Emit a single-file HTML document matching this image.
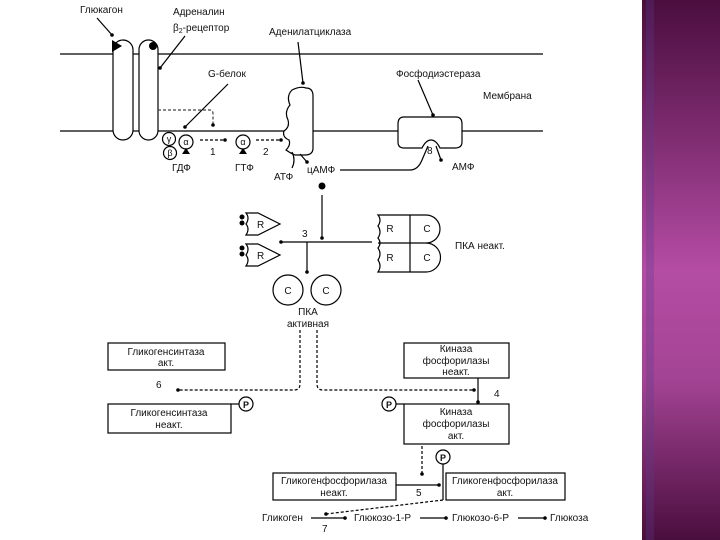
<!DOCTYPE html>
<html><head><meta charset="utf-8"><style>
html,body{margin:0;padding:0;background:#fff;width:720px;height:540px;overflow:hidden}
.bar{position:absolute;left:642px;top:0;width:78px;height:540px;background:linear-gradient(#4a0e3e,#7e2c70 25%,#b44ca4 50%,#a44494 70%,#4a0e3e)}
.bar2{position:absolute;left:646px;top:0;width:8px;height:540px;background:rgba(90,60,140,0.3)}
svg{position:absolute;left:0;top:0}
text{font-family:"Liberation Sans",sans-serif;font-size:10px;fill:#111}
</style></head><body>
<div class="bar"></div><div class="bar2"></div>
<svg width="642" height="540" viewBox="0 0 642 540">
<defs><marker id="a" markerWidth="4" markerHeight="4" refX="2" refY="2"><circle cx="2" cy="2" r="1.5" fill="#000"/></marker></defs>
<g stroke="#000" fill="none" stroke-width="1.2">
<line x1="60" y1="54" x2="113" y2="54"/><line x1="133" y1="54" x2="139" y2="54"/><line x1="158" y1="54" x2="543" y2="54"/>
<line x1="60" y1="131" x2="113" y2="131"/><line x1="133" y1="131" x2="139" y2="131"/><line x1="158" y1="131" x2="398" y2="131"/><line x1="462" y1="131" x2="543" y2="131"/>
<rect x="113" y="40" width="20" height="100" rx="10" fill="#fff"/>
<rect x="139" y="40" width="19" height="100" rx="9.5" fill="#fff"/>
<line x1="97" y1="18" x2="112" y2="35" marker-end="url(#a)"/>
<line x1="185" y1="36" x2="160" y2="68" marker-end="url(#a)"/>
<line x1="298" y1="42" x2="303" y2="83" marker-end="url(#a)"/>
<line x1="228" y1="84" x2="185" y2="127" marker-end="url(#a)"/>
<path d="M158 110 H210 Q213 110 213 114 V125" stroke-dasharray="3,2" stroke="#444" marker-end="url(#a)"/>
<circle cx="169" cy="139" r="6.5"/><circle cx="186" cy="142" r="7"/><circle cx="170" cy="153" r="6.5"/>
<circle cx="243" cy="142" r="7"/>
<line x1="200" y1="140" x2="225" y2="140" stroke-dasharray="3,2" marker-end="url(#a)"/>
<line x1="256" y1="140" x2="281" y2="140" stroke-dasharray="3,2" marker-end="url(#a)"/>
<path d="M292 90 Q300 86 306 88 Q313 88 313 96 V148 Q313 155 305 155 H295 Q290 153 286 150 Q291 145 289 140 Q282 137 284 131 Q290 127 288 120 Q284 112 290 105 Q286 96 292 90 Z" fill="#fff"/>
<path d="M292 152 Q296 160 292 168"/><line x1="300" y1="154" x2="307" y2="162" marker-end="url(#a)"/>
<path d="M340 170 H410 Q418 170 422 160 L428 146"/>
<line x1="322" y1="195" x2="322" y2="238" marker-end="url(#a)"/>
<path d="M404 117 H456 Q462 117 462 124 V142 Q462 148 455 148 H440 Q436 140 431 140 Q426 140 422 148 H404 Q398 148 398 142 V124 Q398 117 404 117 Z" fill="#fff"/>
<line x1="436" y1="146" x2="441" y2="160" marker-end="url(#a)"/>
<line x1="418" y1="80" x2="433" y2="115" marker-end="url(#a)"/>
<path d="M378 215 H426 A14 14 0 0 1 426 243 A14 14 0 0 1 426 272 H378 Q382 266 378 260 Q382 254 378 248 Q382 243 378 238 Q382 232 378 226 Q382 220 378 215 Z" fill="#fff"/>
<line x1="378" y1="243" x2="426" y2="243"/><line x1="410" y1="215" x2="410" y2="272"/>
<line x1="372" y1="242" x2="281" y2="242" marker-end="url(#a)"/>
<line x1="307" y1="242" x2="307" y2="272" marker-end="url(#a)"/>
<path d="M246 213 H258 L280 224 L258 235 H246 Q250 229 246 224 Q250 218 246 213 Z"/>
<path d="M246 244 H258 L280 255 L258 266 H246 Q250 260 246 255 Q250 249 246 244 Z"/>
<circle cx="288" cy="290" r="15"/><circle cx="326" cy="290" r="15"/>
<path d="M300 330 V384 Q300 390 294 390 H178" stroke-dasharray="3,2" marker-end="url(#a)"/>
<path d="M317 330 V384 Q317 390 323 390 H474" stroke-dasharray="3,2" marker-end="url(#a)"/>
<line x1="478" y1="378" x2="478" y2="402" marker-end="url(#a)"/>
<rect x="108" y="343" width="117" height="27"/>
<rect x="108" y="404" width="123" height="29"/>
<line x1="231" y1="404" x2="239" y2="404"/><circle cx="246" cy="404" r="7"/>
<rect x="404" y="343" width="105" height="35"/>
<rect x="404" y="404" width="105" height="40"/>
<line x1="396" y1="404" x2="404" y2="404"/><circle cx="389" cy="404" r="7"/>
<line x1="422" y1="446" x2="422" y2="474" stroke-dasharray="3,2" marker-end="url(#a)"/>
<circle cx="443" cy="457" r="7"/><line x1="443" y1="464" x2="443" y2="500"/>
<rect x="273" y="473" width="123" height="27"/>
<rect x="446" y="473" width="119" height="27"/>
<line x1="396" y1="485" x2="439" y2="485" marker-end="url(#a)"/>
<line x1="443" y1="500" x2="326" y2="514" stroke-dasharray="3,2" marker-end="url(#a)"/>
<line x1="311" y1="518" x2="345" y2="518" marker-end="url(#a)"/>
<line x1="420" y1="518" x2="446" y2="518" marker-end="url(#a)"/>
<line x1="518" y1="518" x2="545" y2="518" marker-end="url(#a)"/>
</g>
<polygon points="112,40 122,46 112,52" fill="#000"/>
<circle cx="153" cy="46" r="4" fill="#000"/>
<polygon points="186,148 182,154 190,154" fill="#000"/><polygon points="243,148 239,154 247,154" fill="#000"/>
<circle cx="322" cy="186" r="3.5" fill="#000"/>
<g fill="#000"><circle cx="242" cy="217" r="2.5"/><circle cx="242" cy="223" r="2.5"/><circle cx="242" cy="248" r="2.5"/><circle cx="242" cy="254" r="2.5"/></g>
<text x="80" y="13">Глюкагон</text>
<text x="173" y="15">Адреналин</text>
<text x="173" y="31">β<tspan font-size="7" dy="2">2</tspan><tspan dy="-2">-рецептор</tspan></text>
<text x="269" y="35">Аденилатциклаза</text>
<text x="208" y="77">G-белок</text>
<text x="396" y="77">Фосфодиэстераза</text>
<text x="483" y="99">Мембрана</text>
<g text-anchor="middle"><text x="169" y="142" style="font-size:9px">γ</text><text x="186" y="145" style="font-size:9px">α</text><text x="170" y="156" style="font-size:9px">β</text><text x="243" y="145" style="font-size:9px">α</text></g>
<text x="210" y="155">1</text><text x="263" y="155">2</text>
<text x="172" y="171">ГДФ</text><text x="235" y="171">ГТФ</text>
<text x="274" y="180">АТФ</text><text x="307" y="173">цАМФ</text>
<text x="427" y="154">8</text><text x="452" y="170">АМФ</text>
<text x="390" y="232" text-anchor="middle">R</text><text x="427" y="232" text-anchor="middle">C</text>
<text x="390" y="261" text-anchor="middle">R</text><text x="427" y="261" text-anchor="middle">C</text>
<text x="455" y="249">ПКА неакт.</text>
<text x="302" y="237">3</text>
<text x="257" y="228">R</text><text x="257" y="259">R</text>
<text x="288" y="294" text-anchor="middle">C</text><text x="326" y="294" text-anchor="middle">C</text>
<text x="308" y="315" text-anchor="middle">ПКА</text><text x="308" y="327" text-anchor="middle">активная</text>
<text x="166" y="355" text-anchor="middle">Гликогенсинтаза</text><text x="166" y="366" text-anchor="middle">акт.</text>
<text x="156" y="388">6</text>
<text x="169" y="416" text-anchor="middle">Гликогенсинтаза</text><text x="169" y="428" text-anchor="middle">неакт.</text>
<text x="246" y="408" text-anchor="middle" style="font-weight:bold;font-size:9px">P</text>
<text x="389" y="408" text-anchor="middle" style="font-weight:bold;font-size:9px">P</text>
<text x="443" y="461" text-anchor="middle" style="font-weight:bold;font-size:9px">P</text>
<text x="456" y="352" text-anchor="middle">Киназа</text><text x="456" y="364" text-anchor="middle">фосфорилазы</text><text x="456" y="375" text-anchor="middle">неакт.</text>
<text x="494" y="397">4</text>
<text x="456" y="415" text-anchor="middle">Киназа</text><text x="456" y="427" text-anchor="middle">фосфорилазы</text><text x="456" y="439" text-anchor="middle">акт.</text>
<text x="334" y="484" text-anchor="middle">Гликогенфосфорилаза</text><text x="334" y="496" text-anchor="middle">неакт.</text>
<text x="505" y="484" text-anchor="middle">Гликогенфосфорилаза</text><text x="505" y="496" text-anchor="middle">акт.</text>
<text x="416" y="496">5</text>
<text x="262" y="521">Гликоген</text><text x="354" y="521">Глюкозо-1-Р</text><text x="452" y="521">Глюкозо-6-Р</text><text x="550" y="521">Глюкоза</text>
<text x="322" y="532">7</text>
</svg>
</body></html>
